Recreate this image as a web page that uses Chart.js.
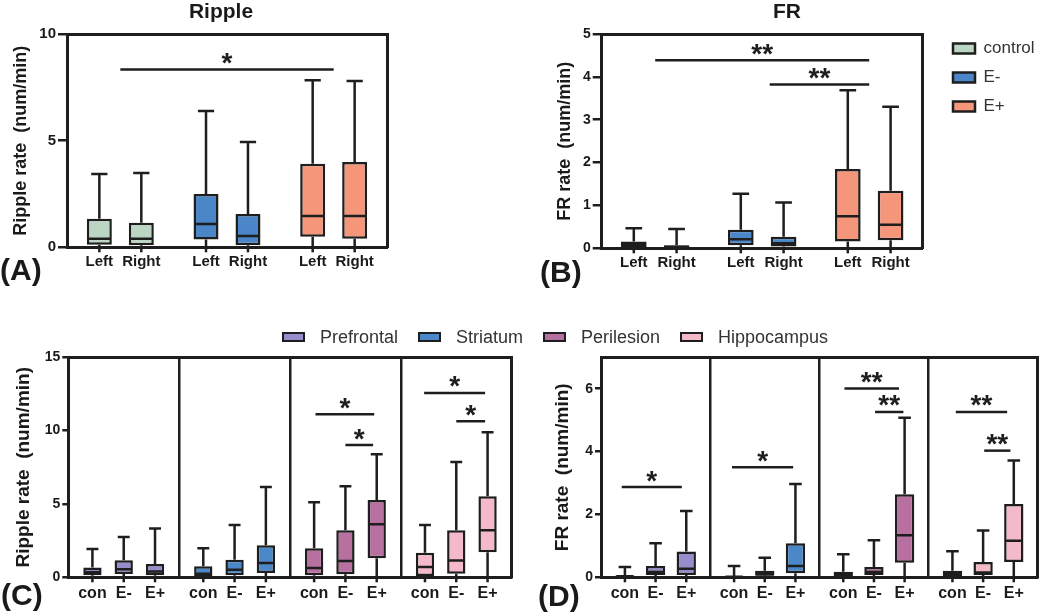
<!DOCTYPE html>
<html>
<head>
<meta charset="utf-8">
<script src="https://cdn.jsdelivr.net/npm/chart.js@4/dist/chart.umd.min.js"></script>
<style>
html,body{margin:0;padding:0;background:#fff;}
body{width:1050px;height:616px;position:relative;overflow:hidden;font-family:"Liberation Sans",Arial,sans-serif;}
canvas{position:absolute;}
.letter{position:absolute;font-weight:bold;font-size:30px;line-height:30px;color:#1a1a1a;}
#legendCD{position:absolute;top:327px;left:0;width:1110px;display:flex;justify-content:center;gap:20px;font-size:18px;line-height:20px;color:#333;}
#legendCD .item{display:flex;align-items:center;}
#legendCD .sw{display:inline-block;width:23px;height:10px;box-sizing:border-box;border:2.5px solid #1e1e1e;margin-right:15px;}
</style>
</head>
<body>
<canvas id="cA" width="450" height="300" style="left:0;top:0"></canvas>
<canvas id="cB" width="516" height="300" style="left:534px;top:0"></canvas>
<canvas id="cC" width="525" height="296" style="left:0;top:320px"></canvas>
<canvas id="cD" width="505" height="296" style="left:545px;top:320px"></canvas>
<div id="legendCD"></div>
<div class="letter" style="left:0;top:255px">(A)</div>
<div class="letter" style="left:540px;top:257px">(B)</div>
<div class="letter" style="left:1px;top:580px">(C)</div>
<div class="letter" style="left:538px;top:581px">(D)</div>
<script>
// ---------- data ----------
const abGroups = ['control', 'E-', 'E+'];
const abColors = ['#bcd6c4', '#4a86c8', '#f5967a'];
const sides = ['Left', 'Right'];
// five-number summaries per box: [min, q1, median, q3, max]
const rippleLeft  = [[0, 0.12, 0.40, 1.34, 3.44], [0, 0.37, 1.09, 2.50, 6.39], [0, 0.50, 1.47, 3.92, 7.83]];
const rippleRight = [[0, 0.10, 0.40, 1.15, 3.48], [0, 0.10, 0.53, 1.56, 4.94], [0, 0.40, 1.47, 4.00, 7.80]];
const frLeft  = [[0, 0.02, 0.09, 0.16, 0.47], [0, 0.07, 0.21, 0.43, 1.27], [0, 0.16, 0.75, 1.85, 3.69]];
const frRight = [[0, 0.01, 0.03, 0.07, 0.45], [0, 0.04, 0.12, 0.27, 1.07], [0, 0.19, 0.55, 1.34, 3.30]];

const regions = ['Prefrontal', 'Striatum', 'Perilesion', 'Hippocampus'];
const regionColors = ['#988ccd', '#4b88c9', '#b770a0', '#f4baca'];
const conditions = ['con', 'E-', 'E+'];
const regionRippleCon    = [[0, 0.14, 0.34, 0.66, 1.93], [0, 0.09, 0.25, 0.75, 1.98], [0, 0.14, 0.64, 1.98, 5.11], [0, 0.09, 0.70, 1.68, 3.57]];
const regionRippleEminus = [[0, 0.23, 0.55, 1.16, 2.75], [0, 0.14, 0.52, 1.20, 3.57], [0, 0.20, 1.11, 3.20, 6.20], [0, 0.25, 1.14, 3.20, 7.86]];
const regionRippleEplus  = [[0, 0.14, 0.39, 0.91, 3.32], [0, 0.30, 0.98, 2.18, 6.16], [0, 1.30, 3.61, 5.27, 8.39], [0, 1.70, 3.20, 5.52, 9.89]];
const regionFrCon    = [[0, 0.01, 0.03, 0.06, 0.33], [0, 0.01, 0.02, 0.04, 0.36], [0, 0.03, 0.08, 0.18, 0.73], [0, 0.03, 0.10, 0.21, 0.83]];
const regionFrEminus = [[0, 0.07, 0.17, 0.36, 1.08], [0, 0.05, 0.10, 0.21, 0.62], [0, 0.07, 0.17, 0.33, 1.18], [0, 0.07, 0.15, 0.49, 1.49]];
const regionFrEplus  = [[0, 0.07, 0.27, 0.82, 2.11], [0, 0.13, 0.36, 1.08, 2.97], [0, 0.46, 1.34, 2.64, 5.08], [0, 0.49, 1.16, 2.33, 3.72]];

const rippleTicks = [0, 5, 10];
const frTicks = [0, 1, 2, 3, 4, 5];
const regionRippleTicks = [0, 5, 10, 15];
const regionFrTicks = [0, 2, 4, 6];

// significance bars: [from (category units), to (category units), level, label]
const rippleSig = [[0, 2, 8.34, '*']];
const frSig = [[0, 2, 4.39, '**'], [1.07, 2, 3.82, '**']];
const regionRippleSig = [[1.73, 2.26, 11.11, '*'], [2.0, 2.25, 9.02, '*'], [2.71, 3.26, 12.57, '*'], [3.0, 3.26, 10.64, '*']];
const regionFrSig = [[-0.31, 0.24, 2.87, '*'], [0.70, 1.26, 3.5, '*'], [1.73, 2.23, 6.01, '**'], [2.01, 2.27, 5.26, '**'], [2.75, 3.22, 5.26, '**'], [3.01, 3.25, 4.03, '**']];

// ---------- styling ----------
const FONT = '"Liberation Sans", Arial, sans-serif';
const INK = '#1e1e1e';
Chart.defaults.font.family = FONT;
Chart.defaults.color = '#1a1a1a';

// ---------- plugins ----------
const boxPlot = {
  id: 'boxPlot',
  afterDatasetsDraw(chart) {
    const ctx = chart.ctx, y = chart.scales.y;
    const px = v => y.getPixelForValue(v);
    chart.data.datasets.forEach((ds, di) => {
      chart.getDatasetMeta(di).data.forEach((el, i) => {
        const s = ds.stats[i];
        const half = el.width / 2, cap = half * 0.65;
        ctx.save();
        ctx.strokeStyle = INK; ctx.lineWidth = 2.5; ctx.lineCap = 'butt';
        ctx.beginPath();
        ctx.moveTo(el.x, px(s[3])); ctx.lineTo(el.x, px(s[4]));
        ctx.moveTo(el.x - cap, px(s[4])); ctx.lineTo(el.x + cap, px(s[4]));
        ctx.moveTo(el.x, px(s[1])); ctx.lineTo(el.x, px(s[0]));
        ctx.moveTo(el.x - cap, px(s[0])); ctx.lineTo(el.x + cap, px(s[0]));
        ctx.moveTo(el.x - half + 1, px(s[2])); ctx.lineTo(el.x + half - 1, px(s[2]));
        ctx.stroke();
        ctx.restore();
      });
    });
  }
};

const subLabels = {
  id: 'subLabels',
  afterDraw(chart, args, opts) {
    const ctx = chart.ctx, bottom = chart.chartArea.bottom;
    ctx.save();
    ctx.font = 'bold ' + opts.size + 'px ' + FONT;
    ctx.fillStyle = '#1a1a1a'; ctx.textAlign = 'center'; ctx.textBaseline = 'middle';
    ctx.strokeStyle = INK; ctx.lineWidth = 2.5;
    chart.data.datasets.forEach((ds, di) => {
      chart.getDatasetMeta(di).data.forEach(el => {
        ctx.beginPath(); ctx.moveTo(el.x, bottom); ctx.lineTo(el.x, bottom + 5); ctx.stroke();
        ctx.fillText(ds.label, el.x, bottom + opts.offset);
      });
    });
    ctx.restore();
  }
};

const sigBars = {
  id: 'sigBars',
  afterDraw(chart, args, opts) {
    const ctx = chart.ctx, x = chart.scales.x, y = chart.scales.y;
    (opts.items || []).forEach(([a, b, v, label]) => {
      const x1 = x.getPixelForValue(a), x2 = x.getPixelForValue(b), py = y.getPixelForValue(v);
      ctx.save();
      ctx.strokeStyle = INK; ctx.lineWidth = 2.5;
      ctx.beginPath(); ctx.moveTo(x1, py); ctx.lineTo(x2, py); ctx.stroke();
      ctx.fillStyle = INK; ctx.font = 'bold 28px ' + FONT;
      ctx.textAlign = 'center'; ctx.textBaseline = 'alphabetic';
      ctx.fillText(label, (x1 + x2) / 2, py + 2.5);
      ctx.restore();
    });
  }
};

// ---------- builder ----------
function boxChart(c) {
  const datasets = c.subs.map((name, k) => ({
    label: name,
    stats: c.stats[k],
    data: c.stats[k].map(s => [s[1], s[3]]),
    backgroundColor: c.colors,
    borderColor: INK,
    borderWidth: 2.5,
    borderSkipped: false,
    categoryPercentage: c.catPct,
    barPercentage: c.barPct
  }));
  const frame = {display: true, color: INK, width: 3};
  return new Chart(document.getElementById(c.canvas), {
    type: 'bar',
    data: {labels: c.labels, datasets},
    options: {
      responsive: false,
      animation: false,
      layout: {padding: c.pad},
      scales: {
        x: {
          type: 'category', offset: true,
          grid: c.separators
            ? {display: true, offset: true, drawOnChartArea: true, drawTicks: false, color: INK, lineWidth: 2.5}
            : {display: false},
          border: frame,
          ticks: {display: false},
          afterFit: s => { s.height = c.xHeight; }
        },
        x2: {
          type: 'category', position: 'top', offset: true,
          grid: {display: false}, border: frame, ticks: {display: false},
          afterFit: s => { s.height = 0; }
        },
        y: {
          type: 'linear', min: 0, max: c.yMax,
          afterBuildTicks: s => { s.ticks = c.ticks.map(v => ({value: v})); },
          ticks: {font: {size: c.tickSize, weight: 'bold'}, color: '#1a1a1a', padding: 2},
          grid: {drawOnChartArea: false, drawTicks: true, tickLength: c.tickLength, color: INK, lineWidth: 2.5},
          border: frame,
          title: {display: true, text: c.yTitle, color: '#1a1a1a', font: {size: c.yTitleSize, weight: 'bold'}, padding: {top: c.yTitlePad, bottom: 0}},
          afterFit: s => { s.width = c.yWidth; }
        },
        y2: {
          type: 'linear', position: 'right',
          grid: {display: false}, ticks: {display: false}, border: frame,
          afterFit: s => { s.width = c.y2Width; }
        }
      },
      plugins: {
        title: c.title
          ? {display: true, text: c.title, color: '#1a1a1a', font: {size: 21, weight: 'bold'}, padding: {top: 0, bottom: 8.8}}
          : {display: false},
        legend: c.legend || {display: false},
        tooltip: {enabled: false},
        subLabels: {size: c.subSize, offset: c.subOffset},
        sigBars: {items: c.sig}
      }
    },
    plugins: [boxPlot, subLabels, sigBars]
  });
}

// (A) Ripple
boxChart({
  canvas: 'cA', labels: abGroups, colors: abColors, subs: sides,
  stats: [rippleLeft, rippleRight], ticks: rippleTicks, yMax: 10,
  title: 'Ripple', yTitle: 'Ripple rate  (num/min)', yTitleSize: 18, yTitlePad: 10,
  tickSize: 15, tickLength: 9, yWidth: 67, y2Width: 55, xHeight: 52.7,
  pad: {left: 0, right: 8, top: 0, bottom: 0},
  catPct: 0.787, barPct: 0.595, separators: false,
  subSize: 15, subOffset: 15, sig: rippleSig
});

// (B) FR
boxChart({
  canvas: 'cB', labels: abGroups, colors: abColors, subs: sides,
  stats: [frLeft, frRight], ticks: frTicks, yMax: 5,
  title: 'FR', yTitle: 'FR rate  (num/min)', yTitleSize: 18, yTitlePad: 20.2,
  tickSize: 14, tickLength: 9, yWidth: 67.7, y2Width: 18.3, xHeight: 51.7,
  pad: {left: 0, right: 10, top: 0, bottom: 0},
  catPct: 0.8, barPct: 0.6, separators: false,
  subSize: 15, subOffset: 15, sig: frSig,
  legend: {
    display: true, position: 'right', align: 'start', maxWidth: 99,
    title: {display: true, text: '', font: {size: 10}, padding: {top: 16, bottom: 0}},
    labels: {
      boxWidth: 22, boxHeight: 10, padding: 12, color: '#333', font: {size: 17},
      generateLabels: () => abGroups.map((g, i) => ({
        text: g, fillStyle: abColors[i], strokeStyle: INK, lineWidth: 2.5, hidden: false, fontColor: '#333'
      }))
    }
  }
});

// (C) Ripple by region
boxChart({
  canvas: 'cC', labels: regions, colors: regionColors, subs: conditions,
  stats: [regionRippleCon, regionRippleEminus, regionRippleEplus], ticks: regionRippleTicks, yMax: 15,
  title: null, yTitle: 'Ripple rate  (num/min)', yTitleSize: 19, yTitlePad: 11.9,
  tickSize: 14, tickLength: 6, yWidth: 68.3, y2Width: 13.3, xHeight: 38.7,
  pad: {left: 0, right: 0, top: 37.3, bottom: 0},
  catPct: 0.847, barPct: 0.585, separators: true,
  subSize: 16, subOffset: 16, sig: regionRippleSig
});

// (D) FR by region
boxChart({
  canvas: 'cD', labels: regions, colors: regionColors, subs: conditions,
  stats: [regionFrCon, regionFrEminus, regionFrEplus], ticks: regionFrTicks, yMax: 7,
  title: null, yTitle: 'FR rate  (num/min)', yTitleSize: 19, yTitlePad: 6.6,
  tickSize: 14, tickLength: 6, yWidth: 56, y2Width: 12.3, xHeight: 38.7,
  pad: {left: 0, right: 0, top: 37.3, bottom: 0},
  catPct: 0.843, barPct: 0.63, separators: true,
  subSize: 16, subOffset: 16, sig: regionFrSig
});

// shared legend for (C)/(D)
const lg = document.getElementById('legendCD');
regions.forEach((r, i) => {
  const item = document.createElement('span');
  item.className = 'item';
  const sw = document.createElement('span');
  sw.className = 'sw';
  sw.style.background = regionColors[i];
  item.appendChild(sw);
  item.appendChild(document.createTextNode(r));
  lg.appendChild(item);
});
</script>
</body>
</html>
